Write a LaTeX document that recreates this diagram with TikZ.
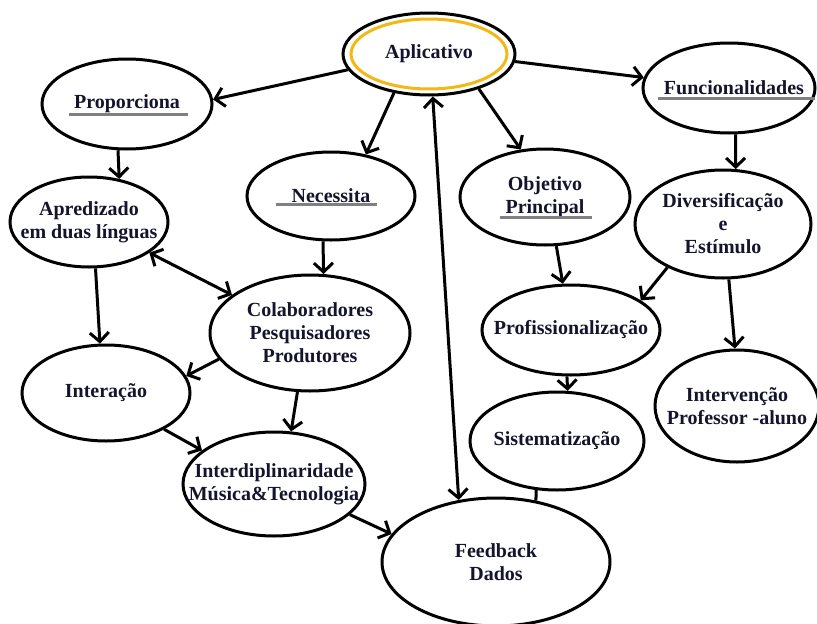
\documentclass[tikz,border=0pt]{standalone}
\usepackage{fontspec}
\setmainfont{Liberation Serif}
\usetikzlibrary{shapes.geometric,arrows.meta,calc}
\definecolor{txt}{RGB}{20,20,45}
\definecolor{gold}{RGB}{242,184,20}
\definecolor{ulgray}{RGB}{128,128,128}
\tikzset{
  ell/.style={ellipse, draw, line width=3pt, inner xsep=-45pt, inner ysep=0pt, align=center,
    font=\bfseries\fontsize{20}{23}\selectfont, text=txt},
  arr/.style={line width=3pt, -{Straight Barb[length=9pt,width=19pt]}},
  darr/.style={line width=3pt, {Straight Barb[length=9pt,width=19pt]}-{Straight Barb[length=9pt,width=19pt]}},
  plain/.style={line width=3pt},
  uline/.style={line width=3pt, ulgray},
}
\begin{document}
\begin{tikzpicture}[x=1pt,y=-1pt]
\useasboundingbox (0,0) rectangle (817,624);
\fill[white] (0,0) rectangle (817,624);

\node[ell, minimum width=172, minimum height=82] (apl) at (429,54) {Aplicativo};
\draw[gold, line width=3pt] (apl.center) ellipse (78 and 35);

\node[ell, minimum width=170, minimum height=90] (prop) at (127,104) {Proporciona};
\node[ell, minimum width=172, minimum height=90] (func) at (729,88) {\hspace*{10pt}Funcionalidades};
\node[ell, minimum width=168, minimum height=88] (nec) at (331,196) {Necessita};
\node[ell, minimum width=170, minimum height=96] (obj) at (545,197) {Objetivo\\Principal};
\node[ell, minimum width=176, minimum height=108] (div) at (723,224) {Diversificação\\e\\Estímulo};
\node[ell, minimum width=158, minimum height=90] (apr) at (89,222) {Apredizado\\em duas línguas};
\node[ell, minimum width=200, minimum height=116] (col) at (310,333) {Colaboradores\\Pesquisadores\\Produtores};
\node[ell, minimum width=178, minimum height=90] (prof) at (571,330) {Profissionalização};
\node[ell, minimum width=168, minimum height=96] (inter) at (106,393) {Interação};
\node[ell, minimum width=164, minimum height=112] (interv) at (737,406) {Intervenção\\Professor -aluno};
\node[ell, minimum width=174, minimum height=98] (sist) at (557,441) {Sistematização};
\node[ell, minimum width=182, minimum height=104] (interd) at (274,484) {Interdiplinaridade\\Música\&Tecnologia};
\node[ell, minimum width=228, minimum height=128] (feed) at (496,562) {Feedback\\Dados};

% underlines
\draw[uline] ($(prop.center)+(-58,10)$) -- ++(119,0);
\draw[uline] ($(nec.center)+(-55,8)$) -- ++(101,0);
\draw[uline] ($(obj.center)+(-45,20)$) -- ++(92,0);
\draw[uline] ($(func.center)+(-71,10)$) -- ++(157,0);

% connectors
\draw[arr] (apl.191) -- (prop.3);
\draw[arr] (apl.355) -- (func.173);
\draw[arr] (apl.228) -- (nec.50);
\draw[arr] (apl.325) -- (obj.117);
\draw[darr] (apl.275) -- (feed.121);
\draw[arr] (prop.259) -- (apr.55);
\draw[arr] (func.278) -- (div.77);
\draw[arr] (nec.260) -- (col.77);
\draw[arr] (obj.283) -- (prof.100);
\draw[arr] (div.218) -- (prof.23);
\draw[arr] (div.276) -- (interv.92);
\draw[darr] (apr.333) -- (col.154);
\draw[arr] (apr.278) -- (inter.97);
\draw[arr] (col.196) -- (inter.12);
\draw[arr] (col.258) -- (interd.72);
\draw[arr] (inter.328) -- (interd.155);
\draw[arr] (interd.338) -- (feed.165);
\draw[arr] (prof.265) -- (sist.78);
\draw[plain] (sist.247) -- (feed.57);
\end{tikzpicture}
\end{document}
